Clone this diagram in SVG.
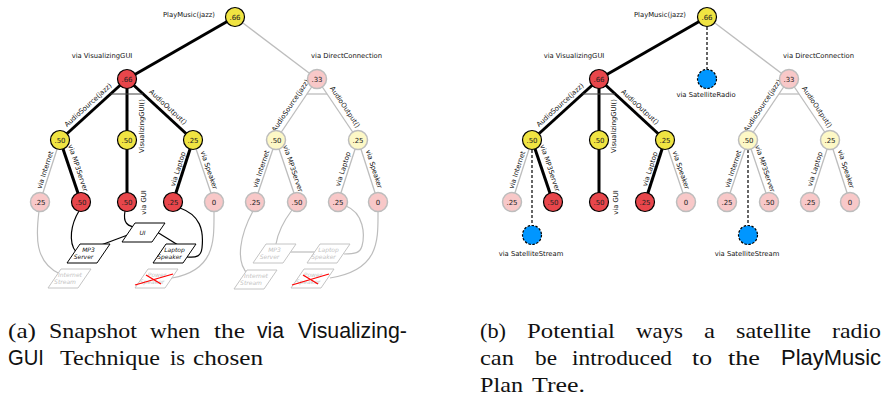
<svg xmlns="http://www.w3.org/2000/svg" width="884" height="402" viewBox="0 0 884 402">
<style>
.lbl{font-family:"DejaVu Sans",sans-serif;font-size:6.8px;fill:#111}
.mid{text-anchor:middle}
.val{font-family:"DejaVu Sans",sans-serif;font-size:7px;fill:#222;text-anchor:middle}
.on{stroke:#000;stroke-width:3;fill:none}
.off{stroke:#bdbdbd;stroke-width:1.3;fill:none}
.bar{stroke:#444;stroke-width:1.2}
.barg{stroke:#bdbdbd;stroke-width:1.3}
.dash{stroke:#000;stroke-width:1.2;stroke-dasharray:3 2;fill:none}
.ny{fill:#f0e442;stroke:#000;stroke-width:1.2}
.nr{fill:#e8464b;stroke:#000;stroke-width:1.2}
.np{fill:#f8c8c8;stroke:#bdbdbd;stroke-width:1.5}
.nl{fill:#fdf8c6;stroke:#bdbdbd;stroke-width:1.5}
.nb{fill:#0096ff;stroke:#000;stroke-width:1.2;stroke-dasharray:2.5 1.5}
.cb{fill:#fff;stroke:#000;stroke-width:1}
.cg{fill:#fff;stroke:#c4c4c4;stroke-width:1}
.ct{font-family:"DejaVu Sans",sans-serif;font-size:6px;font-style:italic;fill:#111;text-anchor:middle}
.ctg{font-family:"DejaVu Sans",sans-serif;font-size:6px;font-style:italic;fill:#c4c4c4;text-anchor:middle}
.lk{stroke:#000;stroke-width:1.2;fill:none}
.lkg{stroke:#bdbdbd;stroke-width:1.2;fill:none}
.x{stroke:#f00;stroke-width:1.3}
.cap{font-family:"Liberation Serif","Times New Roman",serif;font-size:22px;fill:#111}
.ss{font-family:"Liberation Sans",Arial,sans-serif;font-size:22px}
</style>
<defs>
<polygon id="pg" points="0,0 30,0 17,19 -13,19"/>
</defs>

<!-- connectors -->
<g id="connectors">
 <!-- left panel tree edges -->
 <line class="on" x1="235" y1="17" x2="127" y2="79"/>
 <line class="off" x1="235" y1="17" x2="317" y2="79"/>
 <line class="on" x1="127" y1="79" x2="60" y2="140"/>
 <line class="on" x1="127" y1="79" x2="127" y2="140"/>
 <line class="on" x1="127" y1="79" x2="193" y2="140"/>
 <line class="bar" x1="110.5" y1="94" x2="143" y2="94"/>
 <line class="off" x1="60" y1="140" x2="40" y2="202"/>
 <line class="on" x1="60" y1="140" x2="81" y2="202"/>
 <line class="on" x1="127" y1="140" x2="127" y2="202"/>
 <line class="on" x1="193" y1="140" x2="173" y2="202"/>
 <line class="off" x1="193" y1="140" x2="214" y2="202"/>
 <line class="off" x1="317" y1="79" x2="276" y2="140"/>
 <line class="off" x1="317" y1="79" x2="358" y2="140"/>
 <line class="barg" x1="307" y1="94" x2="327" y2="94"/>
 <line class="off" x1="276" y1="140" x2="255" y2="202"/>
 <line class="off" x1="276" y1="140" x2="297" y2="202"/>
 <line class="off" x1="358" y1="140" x2="338" y2="202"/>
 <line class="off" x1="358" y1="140" x2="378" y2="202"/>

 <!-- left panel component links -->
 <path class="lk" d="M125,211 C123,222 126,227 140,228"/>
 <path class="lk" d="M101,245 L133,233"/>
 <path class="lk" d="M157,232 L178,245"/>
 <path class="lk" d="M79,211 C71,224 68,242 76,252"/>
 <path class="lk" d="M180,208 C200,215 204,230 202,248 C201,256 197,258 187,257"/>
 <path class="lkg" d="M39,211 C36,235 34,262 60,274"/>
 <path class="lkg" d="M214,211 C214,240 216,270 172,278"/>
 <path class="lkg" d="M253,211 C240,235 235,262 248,274"/>
 <path class="lkg" d="M292,210 C283,222 278,232 276,244"/>
 <path class="lkg" d="M290,252 L315,252"/>
 <path class="lkg" d="M346,206 C364,213 365,235 362,246 C360,253 355,254 344,254"/>
 <path class="lkg" d="M378,211 C378,240 380,270 330,278"/>

 <!-- right panel tree edges -->
 <line class="on" x1="707" y1="17" x2="599" y2="79"/>
 <line class="off" x1="707" y1="17" x2="789" y2="79"/>
 <line class="dash" x1="707" y1="27" x2="707" y2="69"/>
 <line class="on" x1="599" y1="79" x2="532" y2="140"/>
 <line class="on" x1="599" y1="79" x2="599" y2="140"/>
 <line class="on" x1="599" y1="79" x2="665" y2="140"/>
 <line class="bar" x1="582.5" y1="94" x2="615" y2="94"/>
 <line class="off" x1="532" y1="140" x2="512" y2="202"/>
 <line class="on" x1="532" y1="140" x2="553" y2="202"/>
 <line class="dash" x1="532" y1="150" x2="532" y2="225"/>
 <line class="on" x1="599" y1="140" x2="599" y2="202"/>
 <line class="on" x1="665" y1="140" x2="645" y2="202"/>
 <line class="off" x1="665" y1="140" x2="686" y2="202"/>
 <line class="off" x1="789" y1="79" x2="748" y2="140"/>
 <line class="off" x1="789" y1="79" x2="830" y2="140"/>
 <line class="barg" x1="779" y1="94" x2="799" y2="94"/>
 <line class="off" x1="748" y1="140" x2="727" y2="202"/>
 <line class="off" x1="748" y1="140" x2="769" y2="202"/>
 <line class="dash" x1="748" y1="150" x2="748" y2="225"/>
 <line class="off" x1="830" y1="140" x2="810" y2="202"/>
 <line class="off" x1="830" y1="140" x2="850" y2="202"/>

 <!-- edge labels, left panel -->
 <text class="lbl mid" transform="translate(88,105) rotate(-42.3)" y="2.3">AudioSource(jazz)</text>
 <text class="lbl mid" transform="translate(141.5,126) rotate(-90)" y="2.3">VisualizingGUI()</text>
 <text class="lbl mid" transform="translate(168,107) rotate(42.7)" y="2.3">AudioOutput()</text>
 <text class="lbl mid" transform="translate(45,170) rotate(-72.1)" y="2.3">via Internet</text>
 <text class="lbl mid" transform="translate(78,168) rotate(71.3)" y="2.3">via MP3Server</text>
 <text class="lbl mid" transform="translate(143.5,202.5) rotate(-90)" y="2.3">via GUI</text>
 <text class="lbl mid" transform="translate(178,169) rotate(-72.1)" y="2.3">via Laptop</text>
 <text class="lbl mid" transform="translate(209,170) rotate(71.3)" y="2.3">via Speaker</text>
 <text class="lbl mid" transform="translate(290.5,105.5) rotate(-56.1)" y="2.3">AudioSource(jazz)</text>
 <text class="lbl mid" transform="translate(345,107) rotate(56.1)" y="2.3">AudioOutput()</text>
 <text class="lbl mid" transform="translate(261,169) rotate(-71.3)" y="2.3">via Internet</text>
 <text class="lbl mid" transform="translate(293,168.5) rotate(71.3)" y="2.3">via MP3Server</text>
 <text class="lbl mid" transform="translate(343,169) rotate(-72.1)" y="2.3">via Laptop</text>
 <text class="lbl mid" transform="translate(374,169) rotate(72.1)" y="2.3">via Speaker</text>

 <!-- edge labels, right panel -->
 <text class="lbl mid" transform="translate(560,105) rotate(-42.3)" y="2.3">AudioSource(jazz)</text>
 <text class="lbl mid" transform="translate(613.5,126) rotate(-90)" y="2.3">VisualizingGUI()</text>
 <text class="lbl mid" transform="translate(640,107) rotate(42.7)" y="2.3">AudioOutput()</text>
 <text class="lbl mid" transform="translate(517,170) rotate(-72.1)" y="2.3">via Internet</text>
 <text class="lbl mid" transform="translate(550,168) rotate(71.3)" y="2.3">via MP3Server</text>
 <text class="lbl mid" transform="translate(615.5,202.5) rotate(-90)" y="2.3">via GUI</text>
 <text class="lbl mid" transform="translate(650,169) rotate(-72.1)" y="2.3">via Laptop</text>
 <text class="lbl mid" transform="translate(681,170) rotate(71.3)" y="2.3">via Speaker</text>
 <text class="lbl mid" transform="translate(762.5,105.5) rotate(-56.1)" y="2.3">AudioSource(jazz)</text>
 <text class="lbl mid" transform="translate(817,107) rotate(56.1)" y="2.3">AudioOutput()</text>
 <text class="lbl mid" transform="translate(733,169) rotate(-71.3)" y="2.3">via Internet</text>
 <text class="lbl mid" transform="translate(765,168.5) rotate(71.3)" y="2.3">via MP3Server</text>
 <text class="lbl mid" transform="translate(815,169) rotate(-72.1)" y="2.3">via Laptop</text>
 <text class="lbl mid" transform="translate(846,169) rotate(72.1)" y="2.3">via Speaker</text>
</g>

<!-- LEFT PANEL NODES -->
<g id="a-root"><circle class="ny" cx="235" cy="17" r="9.5"/><text class="val" x="235" y="19.5">.66</text><text class="lbl" x="215" y="16.5" text-anchor="end">PlayMusic(jazz)</text></g>
<g id="a-vg"><circle class="nr" cx="127" cy="79" r="9.5"/><text class="val" x="127" y="81.5">.66</text><text class="lbl mid" x="102" y="57.5">via VisualizingGUI</text></g>
<g id="a-dc"><circle class="np" cx="317" cy="79" r="9.5"/><text class="val" x="317" y="81.5">.33</text><text class="lbl mid" x="346.5" y="57.5">via DirectConnection</text></g>
<g id="a-as"><circle class="ny" cx="60" cy="140" r="9.5"/><text class="val" x="60" y="142.5">.50</text></g>
<g id="a-vgui"><circle class="ny" cx="127" cy="140" r="9.5"/><text class="val" x="127" y="142.5">.50</text></g>
<g id="a-ao"><circle class="ny" cx="193" cy="140" r="9.5"/><text class="val" x="193" y="142.5">.25</text></g>
<g id="a-as2"><circle class="nl" cx="276" cy="140" r="9.5"/><text class="val" x="276" y="142.5">.50</text></g>
<g id="a-ao2"><circle class="nl" cx="358" cy="140" r="9.5"/><text class="val" x="358" y="142.5">.25</text></g>
<g id="a-l1"><circle class="np" cx="40" cy="202" r="9.5"/><text class="val" x="40" y="204.5">.25</text></g>
<g id="a-l2"><circle class="nr" cx="81" cy="202" r="9.5"/><text class="val" x="81" y="204.5">.50</text></g>
<g id="a-l3"><circle class="nr" cx="127" cy="202" r="9.5"/><text class="val" x="127" y="204.5">.50</text></g>
<g id="a-l4"><circle class="nr" cx="173" cy="202" r="9.5"/><text class="val" x="173" y="204.5">.25</text></g>
<g id="a-l5"><circle class="np" cx="214" cy="202" r="9.5"/><text class="val" x="214" y="204.5">0</text></g>
<g id="a-l6"><circle class="np" cx="255" cy="202" r="9.5"/><text class="val" x="255" y="204.5">.25</text></g>
<g id="a-l7"><circle class="np" cx="297" cy="202" r="9.5"/><text class="val" x="297" y="204.5">.50</text></g>
<g id="a-l8"><circle class="np" cx="338" cy="202" r="9.5"/><text class="val" x="338" y="204.5">.25</text></g>
<g id="a-l9"><circle class="np" cx="378" cy="202" r="9.5"/><text class="val" x="378" y="204.5">0</text></g>

<!-- left panel components -->
<g id="c-ui"><use href="#pg" class="cb" x="135" y="223"/><text class="ct" x="142.5" y="235">UI</text></g>
<g id="c-mp3"><use href="#pg" class="cb" x="80" y="244"/><text class="ct" x="88.5" y="251.5">MP3</text><text class="ct" x="83.5" y="258.5">Server</text></g>
<g id="c-laptop"><use href="#pg" class="cb" x="166" y="244"/><text class="ct" x="174.5" y="251.5">Laptop</text><text class="ct" x="169.5" y="258.5">Speaker</text></g>
<g id="c-inet"><use href="#pg" class="cg" x="61" y="269"/><text class="ctg" x="70" y="276.5">Internet</text><text class="ctg" x="65" y="283.5">Stream</text></g>
<g id="c-power"><use href="#pg" class="cg" x="148" y="269"/><text class="ctg" x="157" y="276.5">Power</text><text class="ctg" x="152" y="283.5">Speaker</text><line class="x" x1="135" y1="285" x2="173" y2="274"/><line class="x" x1="146" y1="275" x2="161" y2="284"/></g>
<g id="c-mp3b"><use href="#pg" class="cg" x="266" y="244"/><text class="ctg" x="274.5" y="251.5">MP3</text><text class="ctg" x="269.5" y="258.5">Server</text></g>
<g id="c-laptopb"><use href="#pg" class="cg" x="320" y="244"/><text class="ctg" x="328.5" y="251.5">Laptop</text><text class="ctg" x="323.5" y="258.5">Speaker</text></g>
<g id="c-inetb"><use href="#pg" class="cg" x="247" y="270"/><text class="ctg" x="256" y="277.5">Internet</text><text class="ctg" x="251" y="284.5">Stream</text></g>
<g id="c-powerb"><use href="#pg" class="cg" x="304" y="269"/><text class="ctg" x="313" y="276.5">Power</text><text class="ctg" x="308" y="283.5">Speaker</text><line class="x" x1="292" y1="285" x2="329" y2="274"/><line class="x" x1="303" y1="275" x2="318" y2="284"/></g>

<!-- RIGHT PANEL NODES -->
<g id="b-root"><circle class="ny" cx="707" cy="17" r="9.5"/><text class="val" x="707" y="19.5">.66</text><text class="lbl" x="686" y="16.5" text-anchor="end">PlayMusic(jazz)</text></g>
<g id="b-vg"><circle class="nr" cx="599" cy="79" r="9.5"/><text class="val" x="599" y="81.5">.66</text><text class="lbl mid" x="574" y="57.5">via VisualizingGUI</text></g>
<g id="b-sr"><circle class="nb" cx="707" cy="79" r="9.5"/><text class="lbl mid" x="706" y="96.5">via SatelliteRadio</text></g>
<g id="b-dc"><circle class="np" cx="789" cy="79" r="9.5"/><text class="val" x="789" y="81.5">.33</text><text class="lbl mid" x="818.5" y="57.5">via DirectConnection</text></g>
<g id="b-as"><circle class="ny" cx="532" cy="140" r="9.5"/><text class="val" x="532" y="142.5">.50</text></g>
<g id="b-vgui"><circle class="ny" cx="599" cy="140" r="9.5"/><text class="val" x="599" y="142.5">.50</text></g>
<g id="b-ao"><circle class="ny" cx="665" cy="140" r="9.5"/><text class="val" x="665" y="142.5">.25</text></g>
<g id="b-as2"><circle class="nl" cx="748" cy="140" r="9.5"/><text class="val" x="748" y="142.5">.50</text></g>
<g id="b-ao2"><circle class="nl" cx="830" cy="140" r="9.5"/><text class="val" x="830" y="142.5">.25</text></g>
<g id="b-l1"><circle class="np" cx="512" cy="202" r="9.5"/><text class="val" x="512" y="204.5">.25</text></g>
<g id="b-l2"><circle class="nr" cx="553" cy="202" r="9.5"/><text class="val" x="553" y="204.5">.50</text></g>
<g id="b-l3"><circle class="nr" cx="599" cy="202" r="9.5"/><text class="val" x="599" y="204.5">.50</text></g>
<g id="b-l4"><circle class="nr" cx="645" cy="202" r="9.5"/><text class="val" x="645" y="204.5">.25</text></g>
<g id="b-l5"><circle class="np" cx="686" cy="202" r="9.5"/><text class="val" x="686" y="204.5">0</text></g>
<g id="b-l6"><circle class="np" cx="727" cy="202" r="9.5"/><text class="val" x="727" y="204.5">.25</text></g>
<g id="b-l7"><circle class="np" cx="769" cy="202" r="9.5"/><text class="val" x="769" y="204.5">.50</text></g>
<g id="b-l8"><circle class="np" cx="810" cy="202" r="9.5"/><text class="val" x="810" y="204.5">.25</text></g>
<g id="b-l9"><circle class="np" cx="850" cy="202" r="9.5"/><text class="val" x="850" y="204.5">0</text></g>
<g id="b-ss1"><circle class="nb" cx="532" cy="235" r="9.5"/><text class="lbl mid" x="531" y="255.5">via SatelliteStream</text></g>
<g id="b-ss2"><circle class="nb" cx="748" cy="235" r="9.5"/><text class="lbl mid" x="747" y="255.5">via SatelliteStream</text></g>

<!-- captions -->
<g id="caption-a">
<text class="cap" y="338"><tspan x="8" textLength="28" lengthAdjust="spacingAndGlyphs">(a)</tspan> <tspan x="49" textLength="88" lengthAdjust="spacingAndGlyphs">Snapshot</tspan> <tspan x="150" textLength="50" lengthAdjust="spacingAndGlyphs">when</tspan> <tspan x="214" textLength="31" lengthAdjust="spacingAndGlyphs">the</tspan> <tspan x="257" class="ss" textLength="27" lengthAdjust="spacingAndGlyphs">via</tspan> <tspan x="298" class="ss" textLength="109" lengthAdjust="spacingAndGlyphs">Visualizing-</tspan></text>
<text class="cap" y="365"><tspan x="8" class="ss" textLength="36" lengthAdjust="spacingAndGlyphs">GUI</tspan> <tspan x="60" textLength="100" lengthAdjust="spacingAndGlyphs">Technique</tspan> <tspan x="170" textLength="15" lengthAdjust="spacingAndGlyphs">is</tspan> <tspan x="193" textLength="70" lengthAdjust="spacingAndGlyphs">chosen</tspan></text>
</g>
<g id="caption-b">
<text class="cap" y="338"><tspan x="480" textLength="26" lengthAdjust="spacingAndGlyphs">(b)</tspan> <tspan x="527" textLength="88" lengthAdjust="spacingAndGlyphs">Potential</tspan> <tspan x="636" textLength="47" lengthAdjust="spacingAndGlyphs">ways</tspan> <tspan x="704" textLength="11" lengthAdjust="spacingAndGlyphs">a</tspan> <tspan x="736" textLength="75" lengthAdjust="spacingAndGlyphs">satellite</tspan> <tspan x="832" textLength="49" lengthAdjust="spacingAndGlyphs">radio</tspan></text>
<text class="cap" y="365"><tspan x="480" textLength="34" lengthAdjust="spacingAndGlyphs">can</tspan> <tspan x="535" textLength="22" lengthAdjust="spacingAndGlyphs">be</tspan> <tspan x="572" textLength="100" lengthAdjust="spacingAndGlyphs">introduced</tspan> <tspan x="692" textLength="20" lengthAdjust="spacingAndGlyphs">to</tspan> <tspan x="728" textLength="32" lengthAdjust="spacingAndGlyphs">the</tspan> <tspan x="781" class="ss" textLength="100" lengthAdjust="spacingAndGlyphs">PlayMusic</tspan></text>
<text class="cap" y="392"><tspan x="480" textLength="43" lengthAdjust="spacingAndGlyphs">Plan</tspan> <tspan x="532" textLength="53" lengthAdjust="spacingAndGlyphs">Tree.</tspan></text>
</g>
</svg>
